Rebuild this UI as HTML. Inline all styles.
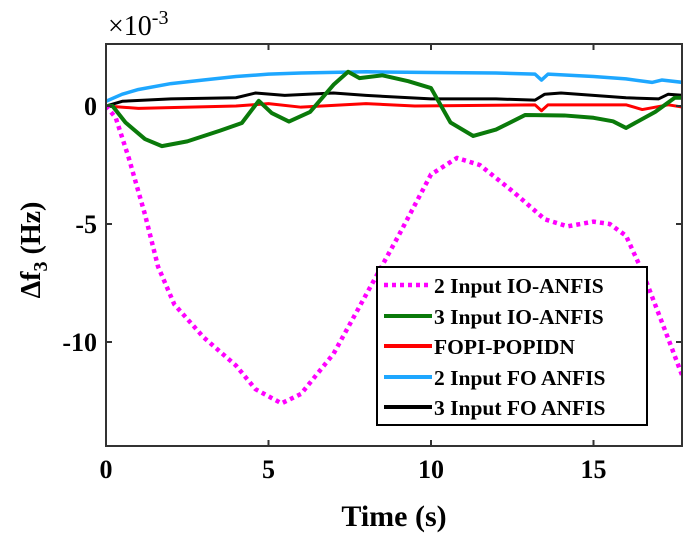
<!DOCTYPE html>
<html><head><meta charset="utf-8"><style>
body{margin:0;background:#fff;width:685px;height:538px;overflow:hidden}
svg{font-family:"Liberation Serif",serif;font-weight:bold}
</style></head><body>
<svg id="c" width="685" height="538"></svg>
<script>
const seriesNames=["2 Input IO-ANFIS","3 Input IO-ANFIS","FOPI-POPIDN","2 Input FO ANFIS","3 Input FO ANFIS"];
const xTicks=[0,5,10,15];
const yTicks=[0,-5,-10];
const magT=[0,0.3,0.7,1.2,1.6,2.1,3,4,4.6,5.4,6,7,8,9,10,10.8,11.5,12.5,13.5,14.2,15,15.5,16,16.5,17.2,17.75];
const magV=[0,-0.5,-2.2,-4.6,-6.8,-8.4,-9.8,-11,-12,-12.6,-12.2,-10.5,-8,-5.5,-2.9,-2.2,-2.5,-3.6,-4.8,-5.1,-4.9,-5,-5.5,-7,-9.5,-11.5];
const grnT=[0,0.2,0.6,1.2,1.72,2.5,3.5,4.18,4.7,5.1,5.63,6.28,7,7.45,7.8,8.5,9.3,10,10.6,11.3,12,12.9,14.1,15,15.6,16,16.9,17.5,17.75];
const grnV=[0,0,-0.7,-1.4,-1.7,-1.5,-1.05,-0.72,0.22,-0.3,-0.66,-0.25,0.9,1.45,1.18,1.3,1.05,0.76,-0.7,-1.27,-1.0,-0.38,-0.4,-0.5,-0.65,-0.93,-0.25,0.35,0.35];
const redT=[0,1,4,5,6,8,9.5,13.2,13.4,13.6,16,16.5,17.3,17.75];
const redV=[0,-0.1,0,0.1,-0.05,0.1,0,0.05,-0.2,0.05,0.05,-0.15,0.05,-0.05];
const bluT=[0,0.5,1,2,3,4,5,6,8,10,12,13.2,13.4,13.6,15,16,16.8,17.1,17.75];
const bluV=[0.2,0.5,0.7,0.95,1.1,1.25,1.35,1.4,1.45,1.42,1.4,1.35,1.1,1.35,1.25,1.15,1.0,1.1,1.0];
const blkT=[0,0.5,2,4,4.6,5.5,7,8,10,12,13.2,13.5,14,16,17,17.3,17.75];
const blkV=[0,0.2,0.3,0.35,0.55,0.45,0.55,0.45,0.3,0.3,0.25,0.5,0.55,0.35,0.3,0.5,0.45];
const L=106,R=682,T=44,B=446;
const sx=t=>L+t*32.5, sy=v=>106-v*23.6;
const svg=document.getElementById('c');const NS='http://www.w3.org/2000/svg';
function el(tag,a,p){const e=document.createElementNS(NS,tag);for(const k in a)e.setAttribute(k,a[k]);(p||svg).appendChild(e);return e;}
const clip=el('clipPath',{id:'cp'});el('rect',{x:L,y:T,width:R-L,height:B-T},clip);
const g=el('g',{'clip-path':'url(#cp)'});
function line(ts,vs,col,w,dash,name){const p=el('polyline',{points:ts.map((t,i)=>sx(t)+','+sy(vs[i])).join(' '),fill:'none',stroke:col,'stroke-width':w,'stroke-dasharray':dash||'none','stroke-linejoin':'round'},g);

}
line(bluT,bluV,'#1ea7ff',3.5,'','series-2-input-fo-anfis');
line(blkT,blkV,'#000',3,'','series-3-input-fo-anfis');
line(redT,redV,'#ff0000',3,'','series-fopi-popidn');
line(grnT,grnV,'#0a7a0a',4,'','series-3-input-io-anfis');
line(magT,magV,'#ff00ff',4.5,'4 4','series-2-input-io-anfis');
el('rect',{x:L,y:T,width:R-L,height:B-T,fill:'none',stroke:'#333','stroke-width':2});
xTicks.forEach(t=>{const x=sx(t);el('line',{x1:x,x2:x,y1:B,y2:B-6,stroke:'#333','stroke-width':2});el('line',{x1:x,x2:x,y1:T,y2:T+6,stroke:'#333','stroke-width':2});
const tx=el('text',{x:x,y:B+32,'text-anchor':'middle','font-size':26});tx.textContent=t;

});
yTicks.forEach(v=>{const y=sy(v);el('line',{x1:L,x2:L+6,y1:y,y2:y,stroke:'#333','stroke-width':2});el('line',{x1:R,x2:R-6,y1:y,y2:y,stroke:'#333','stroke-width':2});
const tx=el('text',{x:L-9,y:y+9,'text-anchor':'end','font-size':26});tx.textContent=v;

});
</script>
<svg width="685" height="538" style="position:absolute;left:0;top:0" font-family="Liberation Serif, serif" font-weight="bold">
<text x="108" y="35" font-size="28" font-weight="normal">×10<tspan dy="-11" font-size="20">-3</tspan></text>
<text transform="translate(40,250) rotate(-90)" text-anchor="middle" font-size="28">Δf<tspan dy="7" font-size="20">3</tspan><tspan dy="-7"> (Hz)</tspan></text>
<text x="394" y="526" text-anchor="middle" font-size="30">Time (s)</text>
<g font-size="21.5">
<rect x="377" y="267" width="270" height="158" fill="#fff" stroke="#000" stroke-width="2"/>
<line x1="384" x2="432" y1="285" y2="285" stroke="#ff00ff" stroke-width="4.5" stroke-dasharray="4 4"/>
<text x="434" y="293">2 Input IO-ANFIS</text>
<line x1="384" x2="432" y1="316" y2="316" stroke="#0a7a0a" stroke-width="4"/>
<text x="434" y="324">3 Input IO-ANFIS</text>
<line x1="384" x2="432" y1="346" y2="346" stroke="#ff0000" stroke-width="4"/>
<text x="434" y="354">FOPI-POPIDN</text>
<line x1="384" x2="432" y1="377" y2="377" stroke="#1ea7ff" stroke-width="4"/>
<text x="434" y="385">2 Input FO ANFIS</text>
<line x1="384" x2="432" y1="407" y2="407" stroke="#000" stroke-width="4"/>
<text x="434" y="415">3 Input FO ANFIS</text>
</g>
</svg>
</body></html>
